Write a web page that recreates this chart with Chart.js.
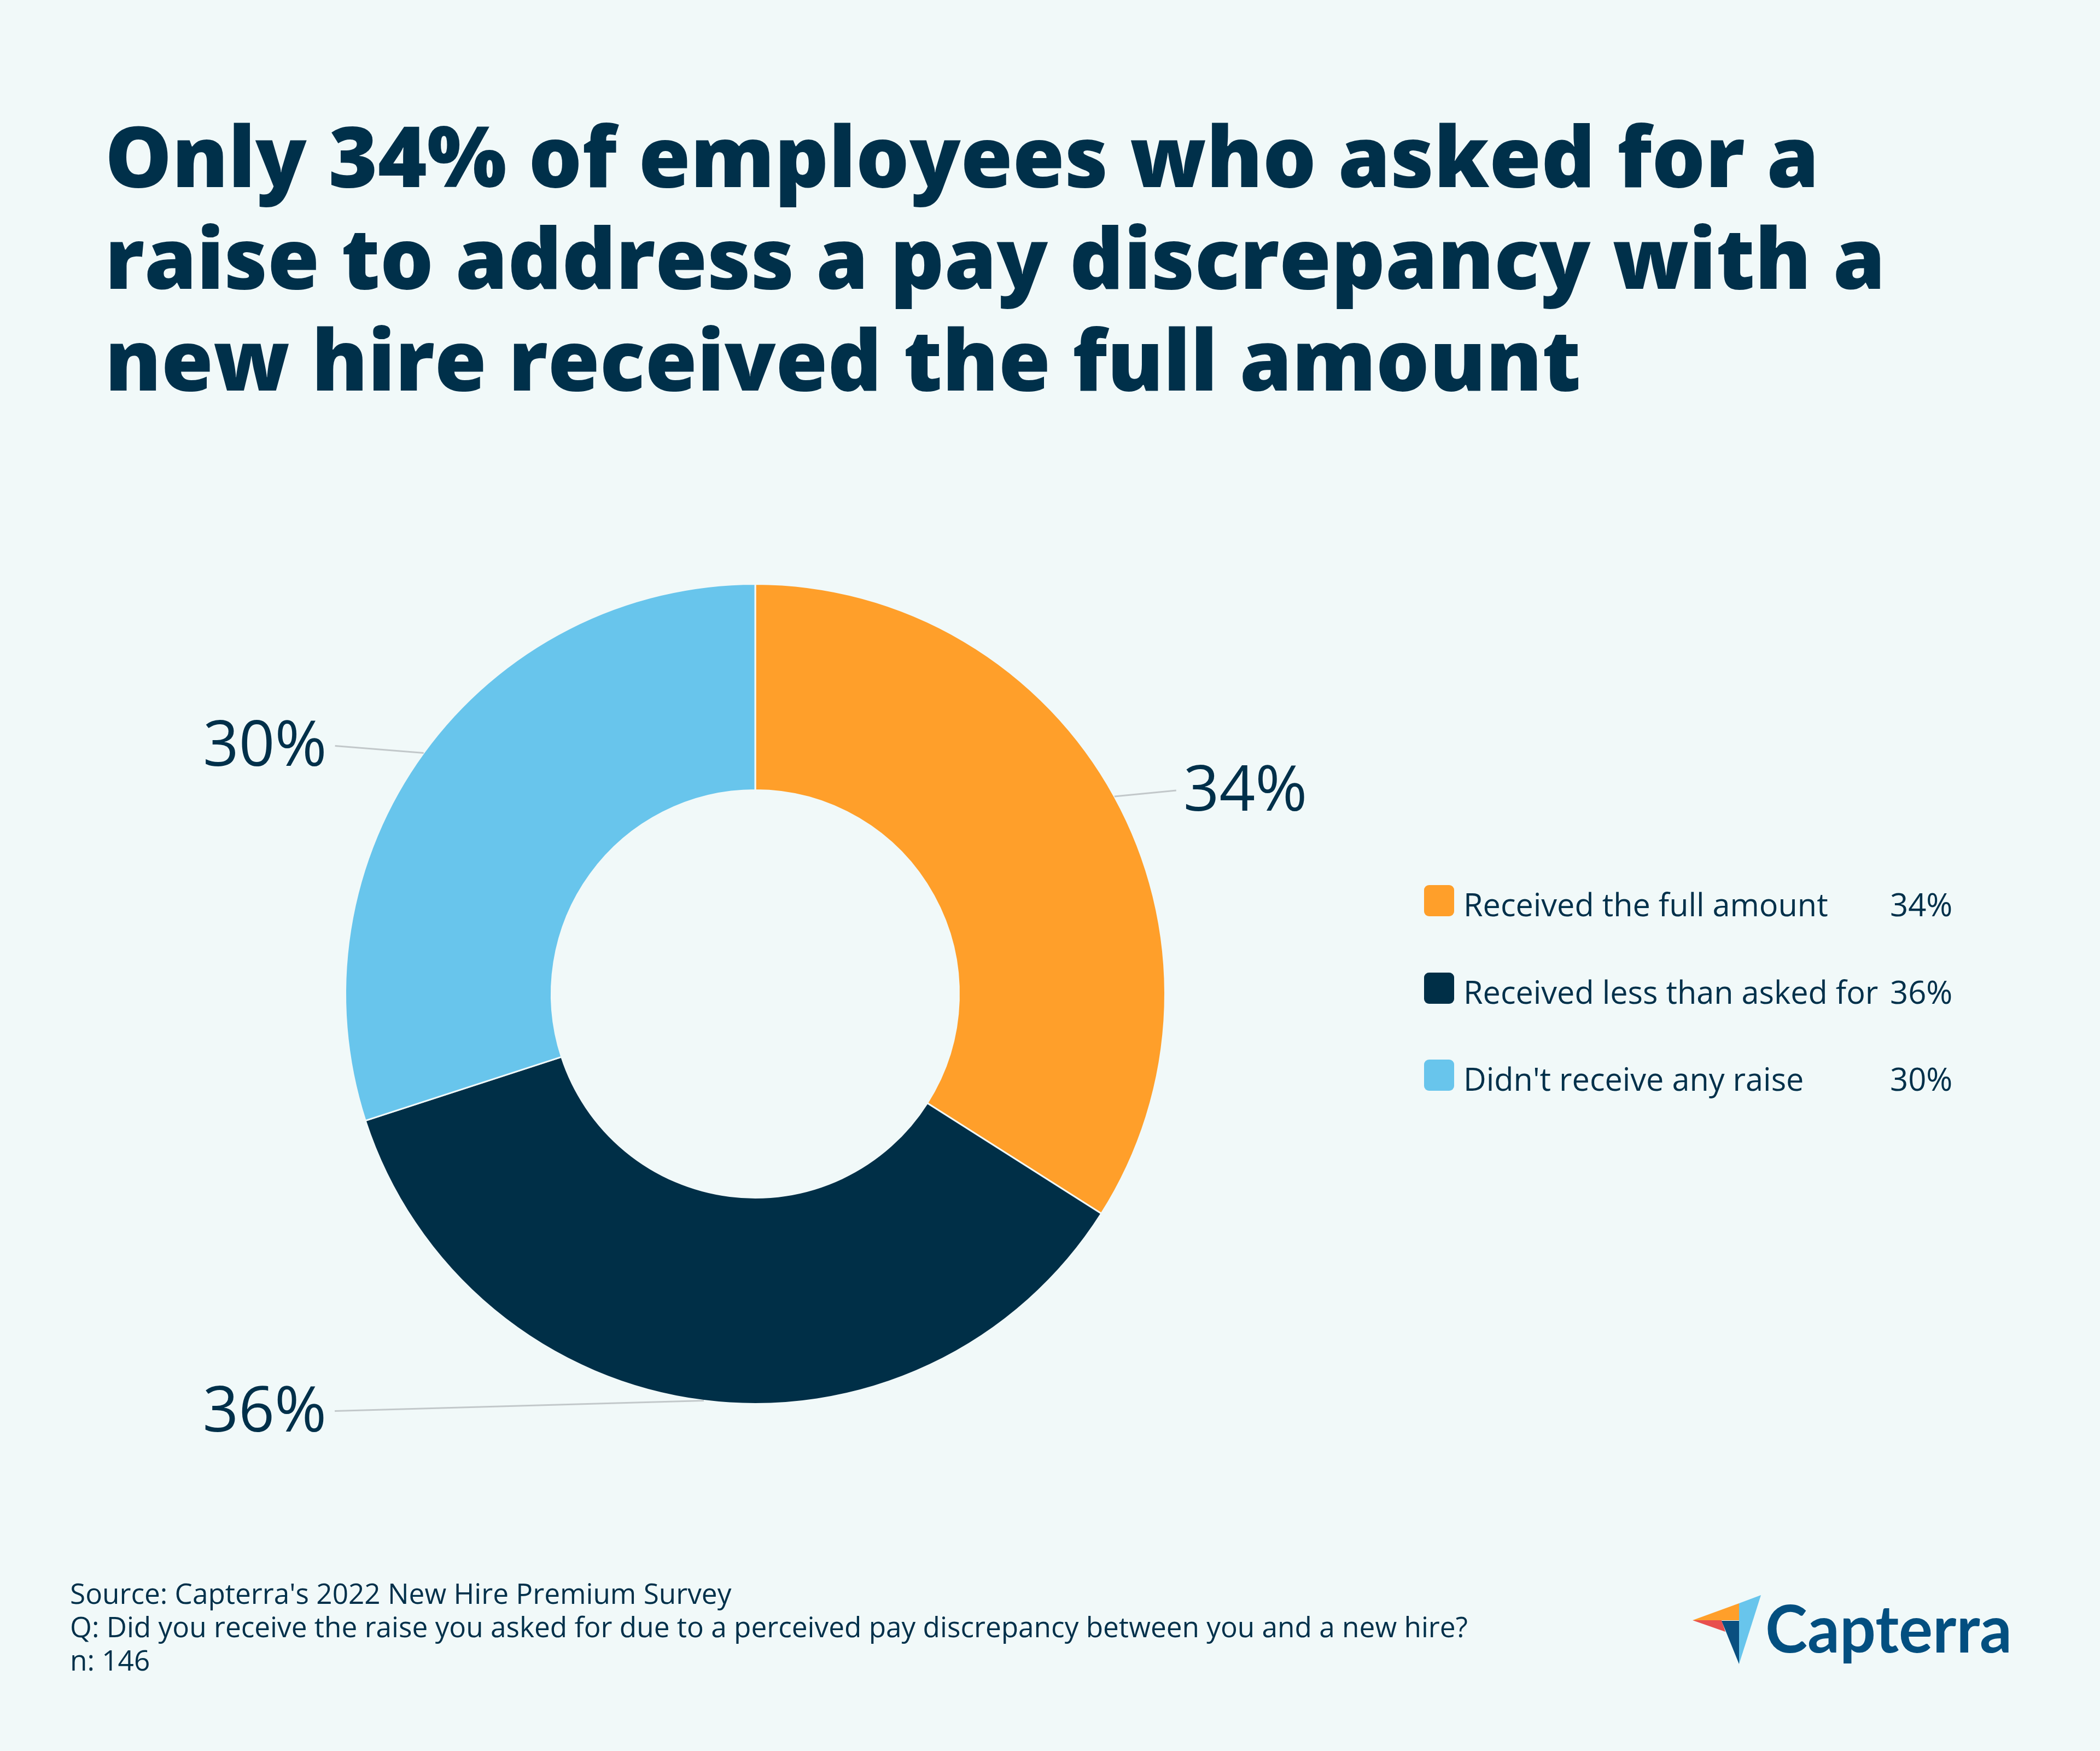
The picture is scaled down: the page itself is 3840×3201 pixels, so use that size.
<!DOCTYPE html>
<html><head><meta charset="utf-8">
<script src="https://cdn.jsdelivr.net/npm/chart.js@4"></script>
<style>
html,body{margin:0;padding:0;background:#f1f9f9;width:3840px;height:3201px;overflow:hidden}
canvas,svg{position:absolute;left:0;top:0}
text{font-family:"Open Sans";fill:#00304a}
</style></head><body>
<canvas id="c" width="3840" height="3201"></canvas>
<svg id="o" width="3840" height="3201" viewBox="0 0 3840 3201" xmlns="http://www.w3.org/2000/svg"></svg>
<script>
const titleLines = ["Only 34% of employees who asked for a","raise to address a pay discrepancy with a","new hire received the full amount"];
const categories = ["Received the full amount","Received less than asked for","Didn't receive any raise"];
const values = [34,36,30];
const colors = ["#ff9f2a","#002f47","#68c5ec"];
const sourceLines = ["Source: Capterra's 2022 New Hire Premium Survey","Q: Did you receive the raise you asked for due to a perceived pay discrepancy between you and a new hire?","n: 146"];
const BG="#f1f9f9", INK="#00304a";
// leader end offsets from each slice's outer mid-point
const leaders=[{dx:113,dy:-11,align:'left'},{dx:-675,dy:19,align:'right'},{dx:-162,dy:-13,align:'right'}];

const leaderPlugin={id:'leaders',afterDatasetsDraw(ch){
  const ctx=ch.ctx, arcs=ch.getDatasetMeta(0).data;
  ctx.save();
  arcs.forEach((a,i)=>{
    const m=(a.startAngle+a.endAngle)/2, x=a.x+Math.cos(m)*a.outerRadius, y=a.y+Math.sin(m)*a.outerRadius;
    const l=leaders[i], ex=x+l.dx, ey=y+l.dy;
    ctx.strokeStyle='#c2c8ca';ctx.lineWidth=3;ctx.beginPath();ctx.moveTo(x,y);ctx.lineTo(ex,ey);ctx.stroke();
    ctx.fillStyle=INK;ctx.font='400 115px "Open Sans"';ctx.textBaseline='alphabetic';
    const pad=l.align==='left'?13:-15;
    ctx.textAlign=l.align;ctx.fillText(values[i]+'%',ex+pad,ey+37);
  });
  ctx.restore();
}};
Chart.defaults.font.family='"Open Sans"';
new Chart(document.getElementById('c'),{type:'doughnut',
 data:{labels:categories,datasets:[{data:values,backgroundColor:colors,borderColor:BG,borderWidth:3}]},
 options:{responsive:false,devicePixelRatio:1,animation:false,cutout:'49.7%',
  layout:{padding:{left:630,right:1708,top:1066,bottom:633}},
  plugins:{legend:{display:false},tooltip:{enabled:false}}},
 plugins:[leaderPlugin]});

const NS="http://www.w3.org/2000/svg", o=document.getElementById('o');
function add(tag,attrs,txt){const e=document.createElementNS(NS,tag);for(const k in attrs)e.setAttribute(k,attrs[k]);if(txt!=null)e.textContent=txt;o.appendChild(e);return e;}
titleLines.forEach((t,i)=>add('text',{x:192,y:342+186*i,'font-size':153.7,'font-weight':800},t));
categories.forEach((c,i)=>{
  const base=[1675,1835,1994][i];
  add('rect',{x:2604,y:base-57,width:55,height:57,rx:9,fill:colors[i]});
  add('text',{x:2676,y:base,'font-size':57.6},c);
  add('text',{x:3456,y:base,'font-size':58},values[i]+'%');
});
sourceLines.forEach((t,i)=>add('text',{x:128,y:2932+61*i,'font-size':51.3},t));
// logo
[["3220,2916 3180,2931 3180,3042","#68c5ec"],["3095,2962 3180,2931 3180,2962","#ff9f2a"],["3095,2962 3148,2962 3155,2983","#e8504f"],["3148,2963 3180,2963 3180,3042","#0a4f80"]]
 .forEach(p=>add('polygon',{points:p[0],fill:p[1]}));
add('text',{x:3228,y:3021,'font-size':120,'font-weight':700,textLength:451,lengthAdjust:'spacingAndGlyphs',style:'fill:#034f80;font-family:Lato'},"Capterra");
</script></body></html>
